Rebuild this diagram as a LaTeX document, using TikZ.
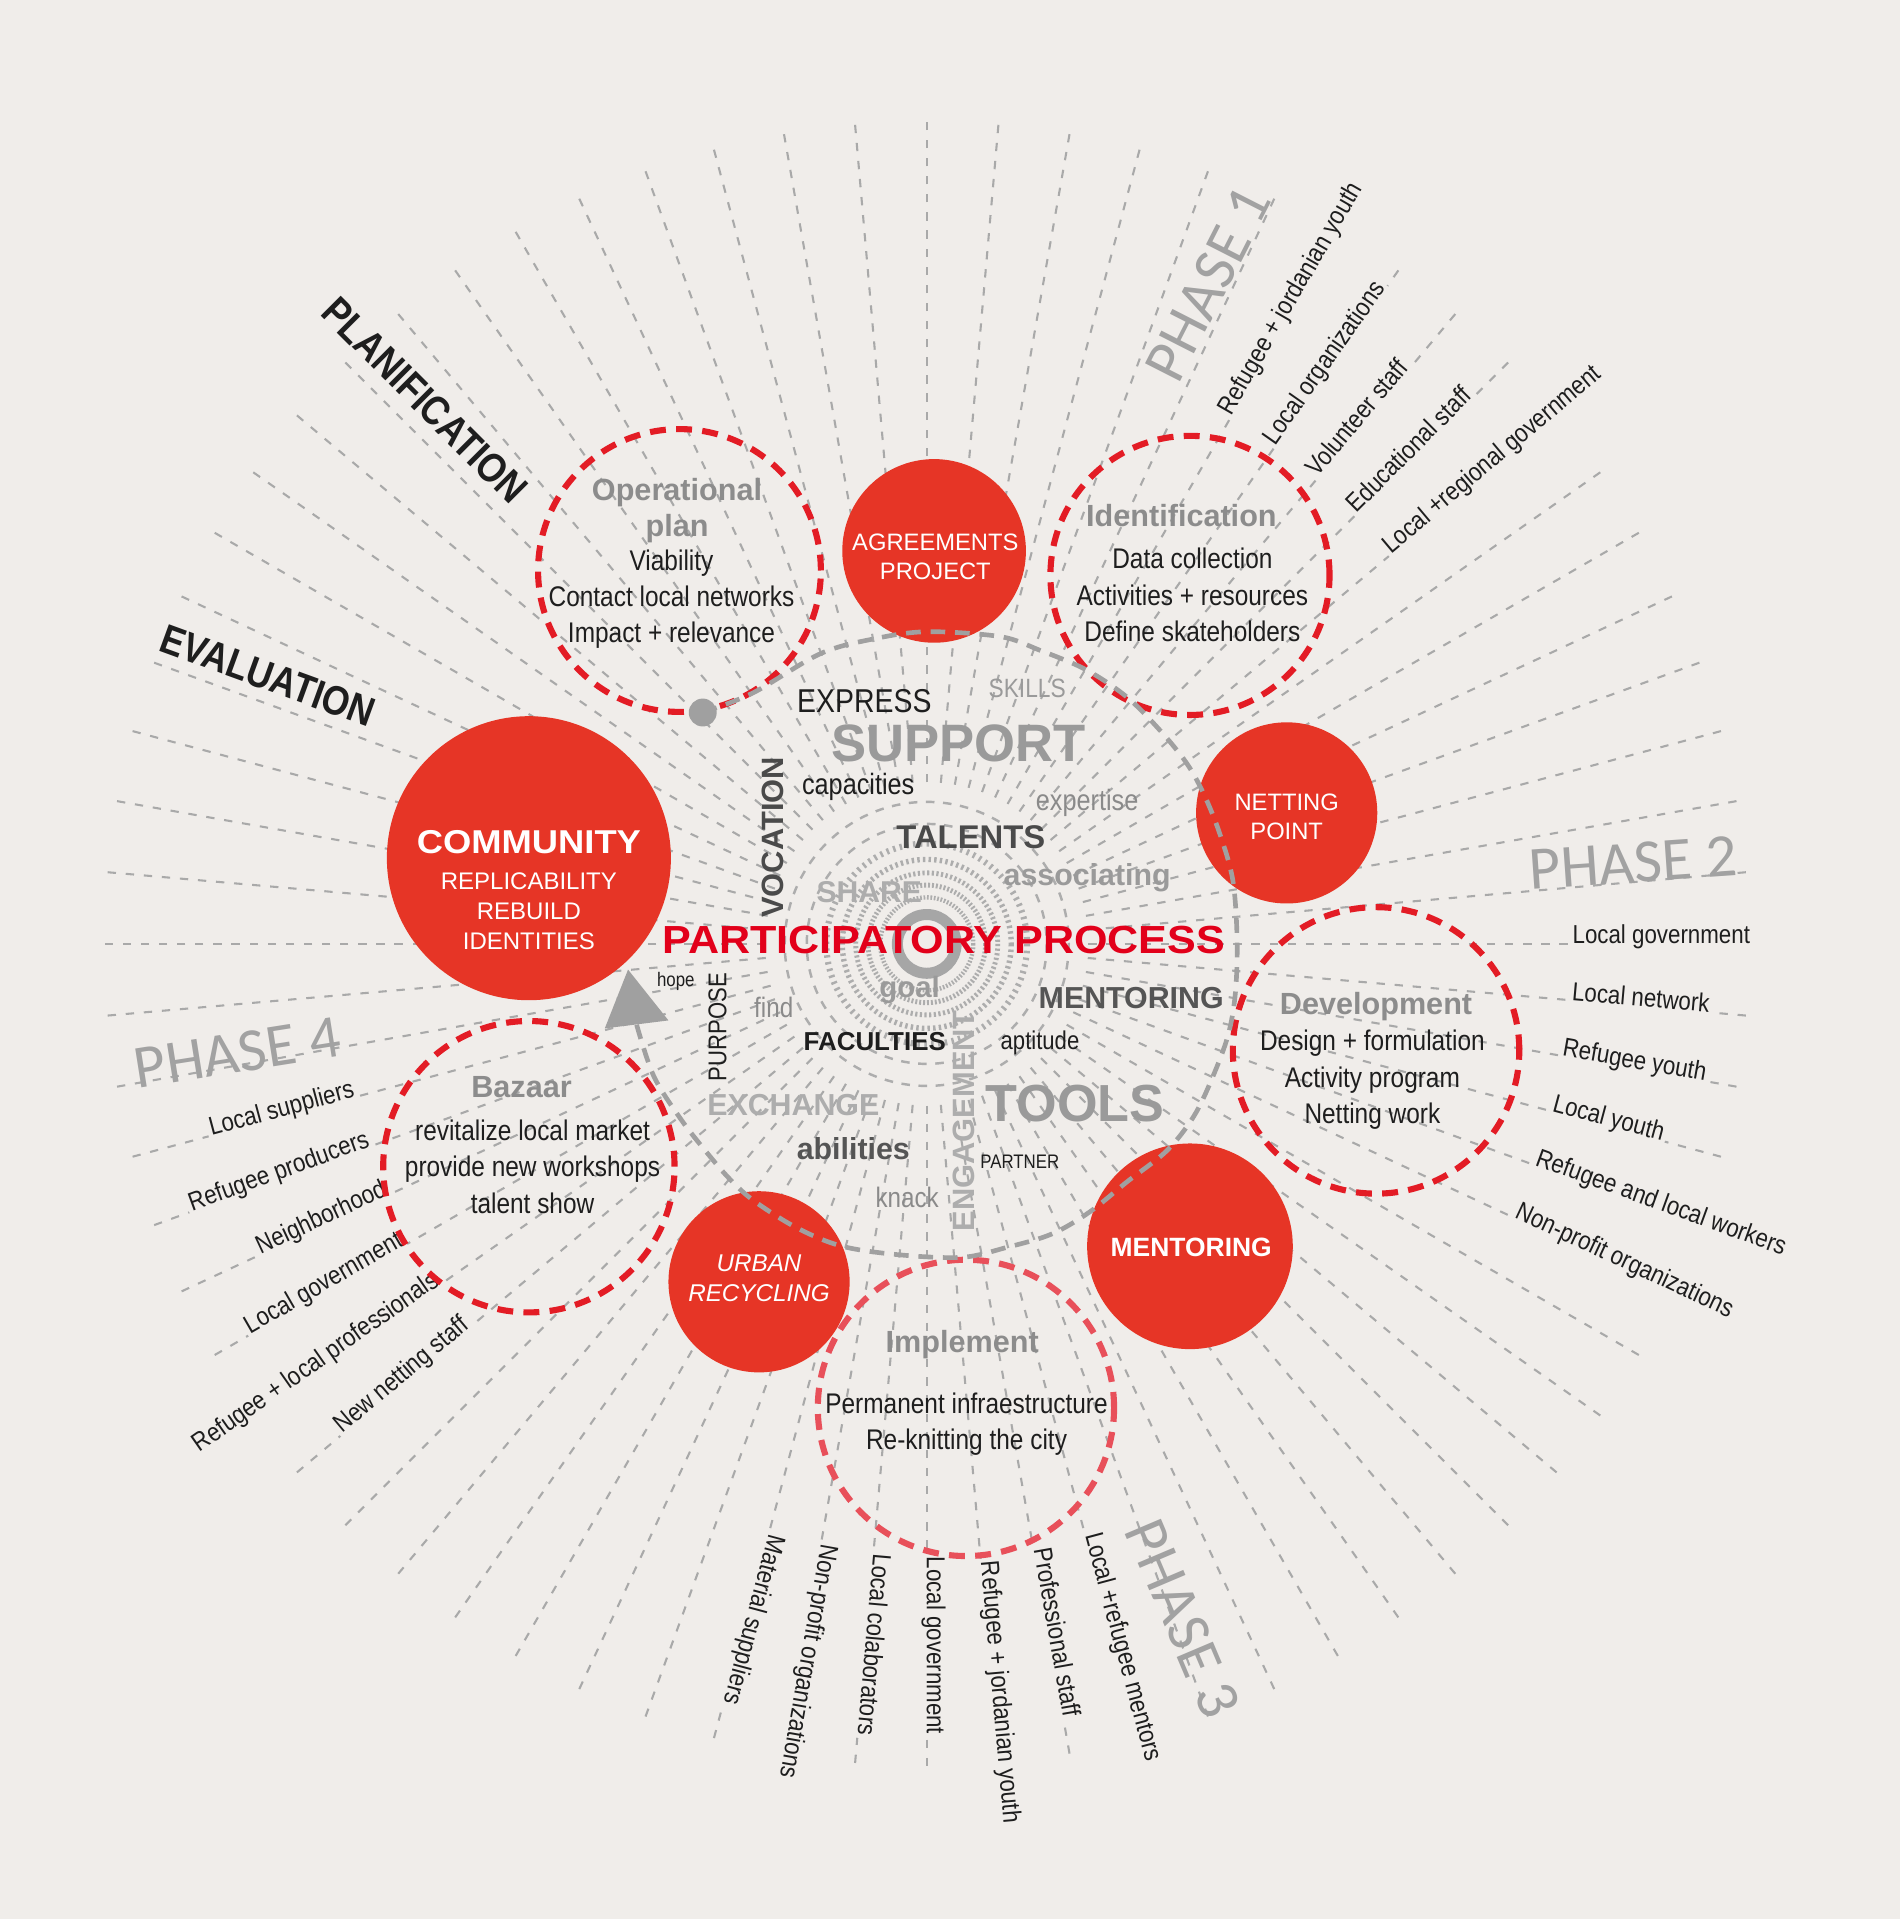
\documentclass[tikz,border=0pt]{standalone}
\usepackage{fontspec}
\setmainfont{Liberation Sans}
\newfontfamily\narrowf[FakeStretch=0.86]{Liberation Sans}
\newfontfamily\widef[FakeStretch=1.1]{Liberation Sans}
\newfontfamily\phasef{Carlito}
\usetikzlibrary{calc}
\newcommand{\fsz}[2]{\fontsize{#1}{#2}\selectfont}
\definecolor{bg}{HTML}{F0EDEA}
\definecolor{rline}{HTML}{A9A9A9}
\definecolor{ringgrey}{HTML}{A6A6A6}
\definecolor{redfill}{HTML}{E63526}
\definecolor{reddash}{HTML}{E31C25}
\definecolor{pinkdash}{HTML}{E8505A}
\definecolor{arcgrey}{HTML}{A0A0A0}
\definecolor{titlegrey}{HTML}{8C8C8C}
\definecolor{phasegrey}{HTML}{A2A2A2}
\definecolor{ink}{HTML}{1E1E1E}
\definecolor{ppred}{HTML}{E2001A}
\definecolor{dgrey}{HTML}{4A4A4A}
\definecolor{dgreyb}{HTML}{555555}
\definecolor{mgrey}{HTML}{9A9A9A}
\definecolor{lgrey}{HTML}{ADADAD}
\definecolor{tgrey}{HTML}{8A8A8A}
\begin{document}
\begin{tikzpicture}[x=0.5pt,y=-0.5pt,
  radial/.style={draw=rline, line width=0.85pt, dash pattern=on 3.4pt off 4pt},
  lab/.style={font=\narrowf\fsz{10.6}{12}, text=ink, fill=bg, inner sep=1.2pt, anchor=base},
  phase/.style={font=\phasef\fsz{25}{30}, text=phasegrey, inner sep=0pt},
  redc/.style={circle, fill=redfill, inner sep=0pt},
  rdash/.style={circle, draw=reddash, line width=2.5pt, dash pattern=on 6.5pt off 4.2pt, inner sep=0pt},
  arcst/.style={draw=arcgrey, line width=1.9pt, dash pattern=on 6pt off 4pt},
  wtxt/.style={text=white, align=center, inner sep=0pt},
  ttl/.style={text=titlegrey, font=\bfseries\fsz{12.5}{15}, align=center, inner sep=0pt},
  body/.style={text=ink, font=\narrowf\fsz{11.6}{14.8}, align=center, inner sep=0pt},
  word/.style={inner sep=0pt},
]
\fill[bg] (0,0) rectangle (1552,1567.5);
\useasboundingbox (0,0) rectangle (1552,1567.5);
\coordinate (C) at (757,771);

% radial dashed lines
\foreach \a in {0,5,...,355}{\draw[radial] ($(C)+(\a:132)$) -- ($(C)+(\a:675)$);}

% central rings
\draw[draw=ringgrey, line width=4.5pt] (C) circle[radius=24];
\foreach \r/\w/\d/\g in {38/1.8pt/0.7pt/0.7pt, 48/2pt/0.8pt/0.8pt, 58/2pt/0.9pt/1pt, 69/2.2pt/1pt/1.3pt, 82/2.5pt/1pt/1.8pt}
  {\draw[draw=lgrey, line width=\w, dash pattern=on \d off \g] (C) circle[radius=\r];}
\foreach \r in {98,116}{\draw[draw=lgrey, line width=1pt, dash pattern=on 3.5pt off 3.5pt] (C) circle[radius=\r];}

% phase 1 labels
\node[lab, rotate=60] (l1a) at ($(C)+(-60:605)$) {Refugee + jordanian youth};
\node[lab, rotate=55] (l1b) at ($(C)+(-55:575)$) {Local organizations};
\node[lab, rotate=50] (l1c) at ($(C)+(-50:555)$) {Volunteer staff};
\node[lab, rotate=45] (l1d) at ($(C)+(-45:564)$) {Educational staff};
\node[lab, rotate=40] (l1e) at ($(C)+(-40:608)$) {Local +regional government};
% phase 2 labels
\node[lab, rotate=0] (l2a) at ($(C)+(0:600)$) {Local government};
\node[lab, rotate=-5] (l2b) at ($(C)+(5:585)$) {Local network};
\node[lab, rotate=-10] (l2c) at ($(C)+(10:586)$) {Refugee youth};
\node[lab, rotate=-15] (l2d) at ($(C)+(15:575)$) {Local youth};
\node[lab, rotate=-20] (l2e) at ($(C)+(20:636)$) {Refugee and local workers};
\node[lab, rotate=-25] (l2f) at ($(C)+(25:626)$) {Non-profit organizations};
% phase 3 labels
\node[lab, rotate=-105] (l3a) at ($(C)+(105:570)$) {Material suppliers};
\node[lab, rotate=-100] (l3b) at ($(C)+(100:594)$) {Non-profit organizations};
\node[lab, rotate=-95] (l3c) at ($(C)+(95:574)$) {Local colaborators};
\node[lab, rotate=-90] (l3d) at ($(C)+(90:573)$) {Local government};
\node[lab, rotate=-85] (l3e) at ($(C)+(85:614)$) {Refugee + jordanian youth};
\node[lab, rotate=-80] (l3f) at ($(C)+(80:572)$) {Professional staff};
\node[lab, rotate=-75] (l3g) at ($(C)+(75:596)$) {Local +refugee mentors};
% phase 4 labels
\node[lab, rotate=15] (l4a) at ($(C)+(-195:544)$) {Local suppliers};
\node[lab, rotate=20] (l4b) at ($(C)+(-200:561)$) {Refugee producers};
\node[lab, rotate=25] (l4c) at ($(C)+(-205:543)$) {Neighborhood};
\node[lab, rotate=30] (l4d) at ($(C)+(-210:565)$) {Local government};
\node[lab, rotate=35] (l4e) at ($(C)+(-215:605)$) {Refugee + local professionals};
\node[lab, rotate=40] (l4f) at ($(C)+(-220:555)$) {New netting staff};

% filled red circles
\node[redc, minimum size=75pt] (agree) at (763,450) {};
\node[redc, minimum size=74pt] (net) at (1051,664) {};
\node[redc, minimum size=84pt] (ment) at (972,1018) {};
\node[redc, minimum size=74pt] (urban) at (620,1047) {};
\node[redc, minimum size=116pt] (comm) at (432,701) {};

% dashed red circles
\node[rdash, minimum size=115.5pt] (opplan) at (555,466) {};
\node[rdash, minimum size=114pt] (ident) at (972,470) {};
\node[rdash, minimum size=117pt] (devel) at (1124,858) {};
\node[rdash, draw=pinkdash, minimum size=121pt] (implem) at (789,1150) {};
\node[rdash, minimum size=119pt] (bazaar) at (432,953) {};

% grey dashed cycle with start dot and arrow
\coordinate (dotc) at (574,582);
\coordinate (abase) at (520,837);
\draw[arcst] plot[smooth, tension=0.55] coordinates {(dotc) (615,566) (670,534) (713,522) (757,516) (817,520) (849,531) (887,547) (920,569) (947,596) (969,623) (983,648) (996,680) (1007,719) (1010.5,768) (1009,812) (1003,846) (990,881) (975,912) (953,940) (921,965) (890,990) (859,1008) (822,1019) (786,1027) (735,1025) (688,1018) (651,1003) (616,981) (596,963) (577,941) (556,914) (534,879) (abase)};
\node[circle, fill=arcgrey, minimum size=11.4pt, inner sep=0pt] (dot) at (dotc) {};
\coordinate (atip) at (513,792);
\coordinate (abl) at (494,840);
\coordinate (abr) at (546,833.5);
\fill[arcgrey] (atip) -- (abl) -- (abr) -- cycle;

% words in the centre
\node[word, font=\narrowf\fsz{13.5}{16}, text=ink] (wexpress) at (706,573) {EXPRESS};
\node[word, font=\narrowf\fsz{10.8}{13}, text=mgrey] (wskills) at (839,562) {SKILLS};
\node[word, font=\bfseries\fsz{21.5}{26}, text=mgrey] (wsupport) at (783,607) {SUPPORT};
\node[word, font=\narrowf\fsz{12}{14}, text=ink] (wcap) at (701,643) {capacities};
\node[word, font=\narrowf\fsz{12}{14}, text=tgrey] (wexp) at (888,656) {expertise};
\node[word, font=\bfseries\fsz{13.4}{16}, text=dgrey] (wtal) at (793,684) {TALENTS};
\node[word, font=\bfseries\fsz{12.4}{15}, text=mgrey] (wass) at (888,717) {associating};
\node[word, font=\bfseries\fsz{12.3}{15}, text=lgrey] (wshare) at (710,729) {SHARE};
\node[word, font=\bfseries\fsz{12.6}{15}, text=dgrey, rotate=90] (wvoc) at (631,684) {VOCATION};
\node[word, font=\widef\bfseries\fsz{16}{19}, text=ppred] (wpp) at (771,768) {PARTICIPATORY PROCESS};
\node[word, font=\narrowf\fsz{8}{10}, text=ink] (whope) at (552,802) {hope};
\node[word, font=\narrowf\fsz{10.5}{12}, text=ink, rotate=90] (wpur) at (586,839) {PURPOSE};
\node[word, font=\narrowf\fsz{11.5}{14}, text=tgrey] (wfind) at (632,823) {find};
\node[word, font=\bfseries\fsz{12}{14}, text=mgrey] (wgoal) at (743,809) {goal};
\node[word, font=\bfseries\fsz{12.4}{15}, text=dgreyb] (wment) at (924,815) {MENTORING};
\node[word, font=\bfseries\fsz{10.6}{13}, text=ink] (wfac) at (714.5,851) {FACULTIES};
\node[word, font=\narrowf\fsz{10.5}{12}, text=ink] (wapt) at (849.5,852) {aptitude};
\node[word, font=\bfseries\fsz{12.4}{15}, text=lgrey] (wexc) at (648,903) {EXCHANGE};
\node[word, font=\bfseries\fsz{21.3}{25}, text=mgrey] (wtools) at (878,901) {TOOLS};
\node[word, font=\bfseries\fsz{12.6}{15}, text=lgrey, rotate=90] (weng) at (787,915.5) {ENGAGEMENT};
\node[word, font=\bfseries\fsz{12.4}{15}, text=dgreyb] (wabil) at (697,938.6) {abilities};
\node[word, font=\narrowf\fsz{8}{10}, text=ink] (wpart) at (833,949) {PARTNER};
\node[word, font=\narrowf\fsz{11.5}{14}, text=tgrey] (wknack) at (741,978) {knack};

% texts in the red circles
\node[wtxt, font=\fsz{9.7}{12}] (tagree) at (764,455) {AGREEMENTS\\PROJECT};
\node[wtxt, font=\fsz{9.7}{11.75}] (tnet) at (1051,667.5) {NETTING\\POINT};
\node[wtxt, font=\bfseries\fsz{10.8}{13}] (tment) at (973,1019) {MENTORING};
\node[wtxt, font=\itshape\fsz{9.9}{12}] (turban) at (620,1044) {URBAN\\RECYCLING};
\node[wtxt, font=\widef\bfseries\fsz{13.5}{16}] (tcomm) at (432,688) {COMMUNITY};
\node[wtxt, font=\fsz{9.8}{12.25}] (tcomm2) at (432,744.5) {REPLICABILITY\\REBUILD\\IDENTITIES};

% texts in the dashed circles
\node[ttl] (topt) at (553,417) {Operational\\plan};
\node[body] (bopt) at (548.5,489.5) {Viability\\Contact local networks\\Impact + relevance};
\node[ttl] (tidt) at (965,421) {Identification};
\node[body] (bidt) at (974,486) {Data collection\\Activities + resources\\Define skateholders};
\node[ttl] (tdev) at (1124,822) {Development};
\node[body] (bdev) at (1121,882) {Design + formulation\\Activity program\\Netting work};
\node[ttl] (tbaz) at (426,888) {Bazaar};
\node[body] (bbaz) at (435,953) {revitalize local market\\provide new workshops\\talent show};
\node[ttl] (timp) at (786,1098) {Implement};
\node[body] (bimp) at (789.5,1163) {Permanent infraestructure\\Re-knitting the city};

% stage headings
\node[word, font=\narrowf\bfseries\fsz{16.8}{20}, text=ink, rotate=-45] (planif) at (347,327) {PLANIFICATION};
\node[word, font=\narrowf\bfseries\fsz{16.8}{20}, text=ink, rotate=-20] (evalu) at (219,552) {EVALUATION};
\node[phase, rotate=63] (ph1) at (987,232) {PHASE 1};
\node[phase, rotate=4] (ph2) at (1334,705) {PHASE 2};
\node[phase, rotate=-67] (ph3) at (966,1322) {PHASE 3};
\node[phase, rotate=9] (ph4) at (194,860) {PHASE 4};
\end{tikzpicture}
\end{document}
